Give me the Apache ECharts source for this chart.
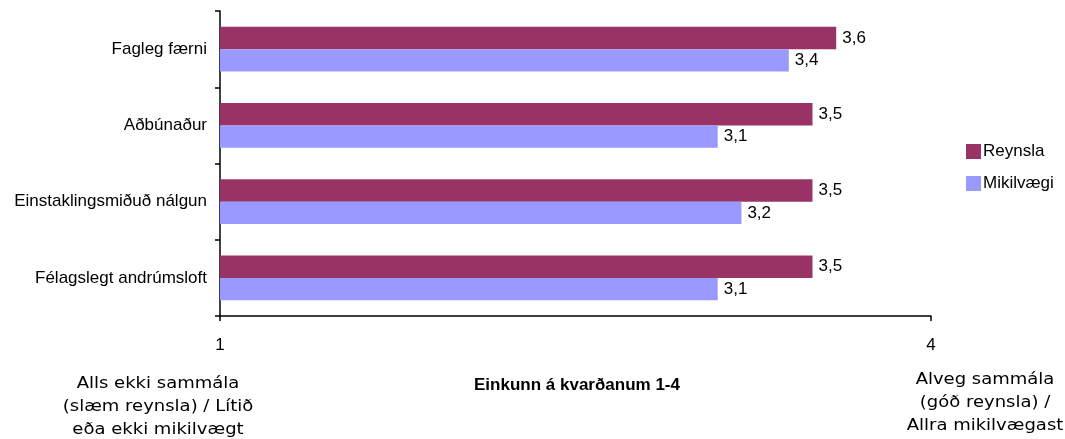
<!DOCTYPE html>
<html>
<head>
<meta charset="utf-8">
<script src="https://cdn.jsdelivr.net/npm/echarts@6/dist/echarts.min.js"></script>
<style>
  html, body { margin: 0; padding: 0; background: #fff; }
  #main { width: 1065px; height: 439px; }
</style>
</head>
<body>
<div id="main"></div>
<script>
// data
const categories = ["Fagleg færni", "Aðbúnaður", "Einstaklingsmiðuð nálgun", "Félagslegt andrúmsloft"]
const reynsla    = [3.6, 3.5, 3.5, 3.5]
const mikilvaegi = [3.4, 3.1, 3.2, 3.1]
const xTicks     = [1, 4]

const sans = '"Liberation Sans", Arial, sans-serif'
const wide = '"DejaVu Sans", "Liberation Sans", sans-serif'
const fmt = v => v.toFixed(1).replace(".", ",")

const barLabel = {
  show: true,
  position: "right",
  distance: 6,
  color: "#000",
  fontFamily: sans,
  fontSize: 17,
  formatter: p => fmt(p.value)
}

// texts under the axis
const sideText = (text, x, y) => ({
  type: "text",
  x: x, y: y,
  scaleX: 1.2,
  silent: true,
  style: {
    text: text,
    font: "15px " + wide,
    fill: "#000",
    align: "center", textAlign: "center",
    verticalAlign: "middle", textVerticalAlign: "middle",
    lineHeight: 23
  }
})

const options = {
  animation: false,
  backgroundColor: "#fff",
  grid: { left: 220, right: 134, top: 11, bottom: 123 },
  legend: {
    orient: "vertical",
    left: 961,
    top: 138,
    itemWidth: 15,
    itemHeight: 15,
    itemGap: 15,
    icon: "rect",
    textStyle: { fontFamily: sans, fontSize: 17, color: "#000", padding: [0, 0, 0, -3] },
    data: ["Reynsla", "Mikilvægi"]
  },
  xAxis: {
    type: "value",
    min: xTicks[0],
    max: xTicks[1],
    interval: xTicks[1] - xTicks[0],
    axisLine: { show: true, lineStyle: { color: "#000", width: 1.5 } },
    axisTick: { show: true, length: 5, lineStyle: { color: "#000", width: 1.5 } },
    axisLabel: { color: "#000", fontFamily: sans, fontSize: 17, margin: 21 },
    splitLine: { show: false }
  },
  yAxis: {
    type: "category",
    data: categories,
    inverse: true,
    axisLine: { show: true, lineStyle: { color: "#000", width: 1.5 } },
    axisTick: { show: true, length: 5, lineStyle: { color: "#000", width: 1.5 } },
    axisLabel: { color: "#000", fontFamily: sans, fontSize: 17, margin: 13 }
  },
  series: [
    {
      name: "Reynsla",
      type: "bar",
      data: reynsla,
      itemStyle: { color: "#993366" },
      barGap: "0%",
      barCategoryGap: "41%",
      label: barLabel
    },
    {
      name: "Mikilvægi",
      type: "bar",
      data: mikilvaegi,
      itemStyle: { color: "#9999FF" },
      label: barLabel
    }
  ],
  graphic: [
    sideText("Alls ekki sammála\n(slæm reynsla) / Lítið\neða ekki mikilvægt", 158, 407),
    {
      type: "text",
      x: 577, y: 385,
      silent: true,
      style: {
        text: "Einkunn á kvarðanum 1-4",
        font: "bold 17px " + sans,
        fill: "#000",
        align: "center", textAlign: "center",
        verticalAlign: "middle", textVerticalAlign: "middle"
      }
    },
    sideText("Alveg sammála\n(góð reynsla) /\nAllra mikilvægast", 985, 403)
  ]
}

const myChart = echarts.init(document.getElementById("main"))
myChart.setOption(options)
window.onresize = () => myChart.resize()
</script>
</body>
</html>
